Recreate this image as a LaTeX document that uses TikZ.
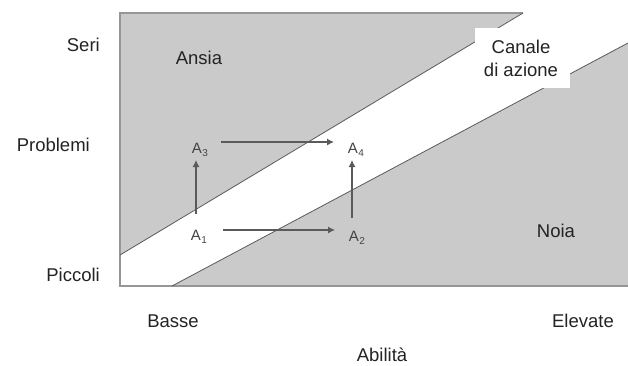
\documentclass[tikz,border=0pt]{standalone}
\usepackage{fontspec}
\setmainfont{Liberation Sans}
\usetikzlibrary{arrows.meta}
\definecolor{zonegrey}{RGB}{202,202,202}
\definecolor{edgegrey}{RGB}{90,90,90}
\definecolor{framegrey}{RGB}{150,150,150}
\definecolor{txt}{RGB}{35,35,35}
\newcommand{\asub}[2]{#1\kern0.5pt\raisebox{-3pt}{\fontsize{10}{12}\selectfont #2}}
\tikzset{
  lbl/.style={font=\fontsize{18.5}{22}\selectfont, text=txt, inner sep=0pt},
  alabel/.style={font=\fontsize{15}{18}\selectfont, text=txt!85, inner sep=0pt},
  mv/.style={draw=edgegrey, line width=1.1pt, -{Latex[length=7pt,width=7pt]}},
  bandline/.style={draw=edgegrey, line width=0.8pt},
}
\begin{document}
\begin{tikzpicture}[x=1pt,y=-1pt]
\useasboundingbox (0,0) rectangle (628,365);
% named corners
\coordinate (tl) at (120,13);
\coordinate (bl) at (120,286);
\coordinate (br) at (628,286);
\coordinate (u0) at (120,255);
\coordinate (u1) at (523,13);
\coordinate (l0) at (172,286);
\coordinate (l1) at (628,43);
% grey zones
\fill[zonegrey] (tl) -- (u1) -- (u0) -- cycle;
\fill[zonegrey] (l0) -- (br) -- (l1) -- cycle;
% frame
\draw[framegrey, line width=1.2pt] (u1) -- (tl) -- (bl) -- (br);
% band lines
\draw[bandline] (u0) -- (u1);
\draw[bandline] (l0) -- (l1);
% label box
\fill[white] (475,28) rectangle (570,88);
\node[lbl, align=center] (canale) at (521,58) {Canale\\[1pt]di azione};
% zone labels
\node[lbl] (ansia) at (199,58) {Ansia};
\node[lbl] (noia) at (556,231) {Noia};
% axis labels
\node[lbl, anchor=east] (seri) at (100,45) {Seri};
\node[lbl, anchor=east] (probl) at (90,145) {Problemi};
\node[lbl, anchor=east] (picc) at (100,275) {Piccoli};
\node[lbl] (basse) at (173,321) {Basse};
\node[lbl] (elev) at (583,321) {Elevate};
\node[lbl] (abil) at (382,355) {Abilità};
% A points
\node[alabel] (a3) at (200,150) {\asub{A}{3}};
\node[alabel] (a4) at (356,150) {\asub{A}{4}};
\node[alabel] (a1) at (199,237) {\asub{A}{1}};
\node[alabel] (a2) at (357,238) {\asub{A}{2}};
% moves
\coordinate (h1s) at (221,142);
\coordinate (h1e) at (334,142);
\coordinate (h2s) at (223,230);
\coordinate (h2e) at (335,230);
\coordinate (v1s) at (196,214);
\coordinate (v1e) at (196,160);
\coordinate (v2s) at (352,218);
\coordinate (v2e) at (352,160);
\draw[mv] (h1s) -- (h1e);
\draw[mv] (h2s) -- (h2e);
\draw[mv] (v1s) -- (v1e);
\draw[mv] (v2s) -- (v2e);
\end{tikzpicture}
\end{document}
